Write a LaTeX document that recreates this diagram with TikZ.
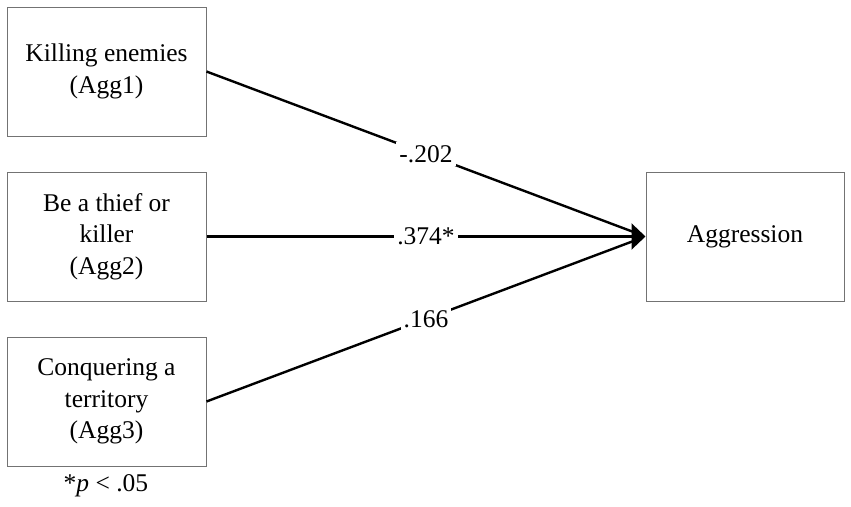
\documentclass[tikz,border=0pt]{standalone}
\usepackage{fontspec}
\setmainfont{Liberation Serif}
\usetikzlibrary{arrows.meta}
\begin{document}
\begin{tikzpicture}[x=1pt,y=-1pt,
  varbox/.style={draw=black!55,line width=1pt,minimum width=199pt,minimum height=129pt,align=center,font=\fontsize{25.5}{31.5}\selectfont,inner sep=0pt},
  path/.style={line width=2.4pt},
  tippath/.style={line width=2.4pt,-{Triangle[length=14pt,width=26pt]}},
  coef/.style={fill=white,inner sep=3pt,font=\fontsize{25.5}{31}\selectfont}]
\useasboundingbox (0,0) rectangle (851,506);
\fill[white] (0,0) rectangle (851,506);
\node[varbox] (a1) at (106.5,71.5) {Killing enemies\\(Agg1)};
\node[varbox] (a2) at (106.5,236.5) {Be a thief or\\killer\\(Agg2)};
\node[varbox] (a3) at (106.5,401.5) {Conquering a\\territory\\(Agg3)};
\node[varbox,minimum width=198pt] (ag) at (745,236.5) {Aggression};
\draw[path,shorten >=8pt] (a1.east) -- node[coef]{-.202} (ag.west);
\draw[tippath] (a2.east) -- node[coef]{.374*} (ag.west);
\draw[path,shorten >=8pt] (a3.east) -- node[coef]{.166} (ag.west);
\node[font=\fontsize{25.5}{31}\selectfont,inner sep=0pt] (note) at (106,486) {*\textit{p} < .05};
\end{tikzpicture}
\end{document}
